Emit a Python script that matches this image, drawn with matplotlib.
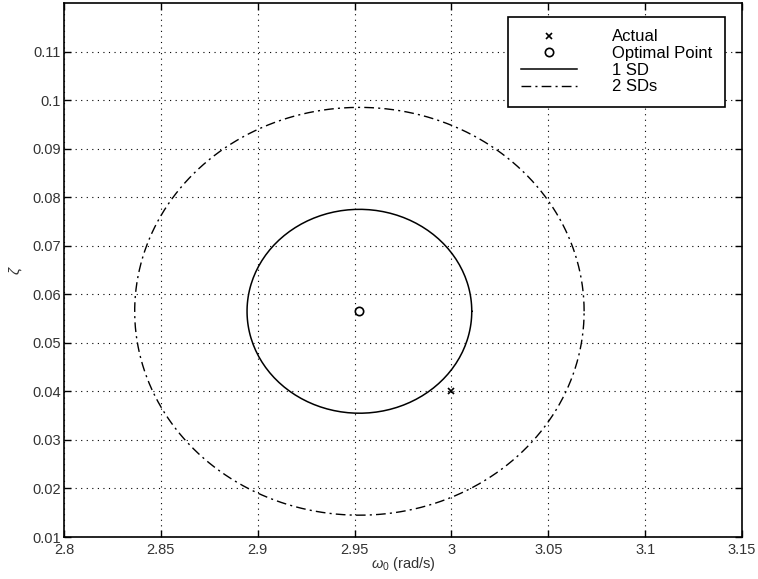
import numpy as np
import matplotlib
matplotlib.use("Agg")
import matplotlib.pyplot as plt

plt.rcParams['font.family'] = ['Liberation Sans', 'DejaVu Sans']
plt.rcParams['mathtext.fontset'] = 'custom'
plt.rcParams['mathtext.rm'] = 'Liberation Sans'
plt.rcParams['mathtext.it'] = 'Liberation Sans:italic'

# estimates for natural frequency (rad/s) and damping ratio
actual_w0 = 3.0
actual_zeta = 0.040
opt_w0 = 2.9525
opt_zeta = 0.0565
sd_w0 = 0.058
sd_zeta = 0.021

x_ticks = [2.8, 2.85, 2.9, 2.95, 3.0, 3.05, 3.1, 3.15]
x_tick_labels = ['2.8', '2.85', '2.9', '2.95', '3', '3.05', '3.1', '3.15']
y_ticks = [0.01, 0.02, 0.03, 0.04, 0.05, 0.06, 0.07, 0.08, 0.09, 0.1, 0.11]
y_tick_labels = ['0.01', '0.02', '0.03', '0.04', '0.05', '0.06', '0.07',
                 '0.08', '0.09', '0.1', '0.11']

# confidence ellipses around the optimal point
t = np.linspace(0, 2 * np.pi, 200)
e1_x = opt_w0 + sd_w0 * np.cos(t)
e1_y = opt_zeta + sd_zeta * np.sin(t)
e2_x = opt_w0 + 2 * sd_w0 * np.cos(t)
e2_y = opt_zeta + 2 * sd_zeta * np.sin(t)

fig = plt.figure(figsize=(7.58, 5.79), dpi=100)
ax = fig.add_axes([0.0844, 0.0725, 0.8945, 0.9223])

ax.plot(actual_w0, actual_zeta, 'x', color='k', ms=5, mew=1.2, label='Actual')
ax.plot(opt_w0, opt_zeta, 'o', color='k', mfc='none', ms=6, mew=1.2,
        label='Optimal Point')
ax.plot(e1_x, e1_y, '-', color='k', lw=1.1, label='1 SD')
ax.plot(e2_x, e2_y, color='k', lw=1.0, dashes=(7, 3, 1.5, 3), label='2 SDs')

ax.set_xlim(2.8, 3.15)
ax.set_ylim(0.01, 0.12)
ax.set_xticks(x_ticks)
ax.set_xticklabels(x_tick_labels)
ax.set_yticks(y_ticks)
ax.set_yticklabels(y_tick_labels)

ax.grid(True, color='k', linestyle=(0, (1, 4)), linewidth=0.8)
ax.tick_params(direction='in', length=5, width=1, top=True, right=True,
               labelsize=10.5, colors='k', pad=2)
ax.tick_params(axis='x', pad=4)
for lab in ax.get_xticklabels() + ax.get_yticklabels():
    lab.set_color('#333333')
for sp in ax.spines.values():
    sp.set_linewidth(1.2)

ax.set_xlabel(r'$\omega_0$ (rad/s)', fontsize=10.5, color='#333333', labelpad=-1)
ax.set_ylabel(r'$\zeta$', fontsize=11, color='#333333', labelpad=6)

leg = ax.legend(loc='upper right', prop={'size': 12}, frameon=True,
                fancybox=False, edgecolor='k', framealpha=1, borderpad=0.75,
                handlelength=3.4, handletextpad=2.1, labelspacing=0.1,
                borderaxespad=0, bbox_to_anchor=(0.975, 0.974))
leg.get_frame().set_linewidth(1.2)

fig.savefig('out.png', dpi=100)
